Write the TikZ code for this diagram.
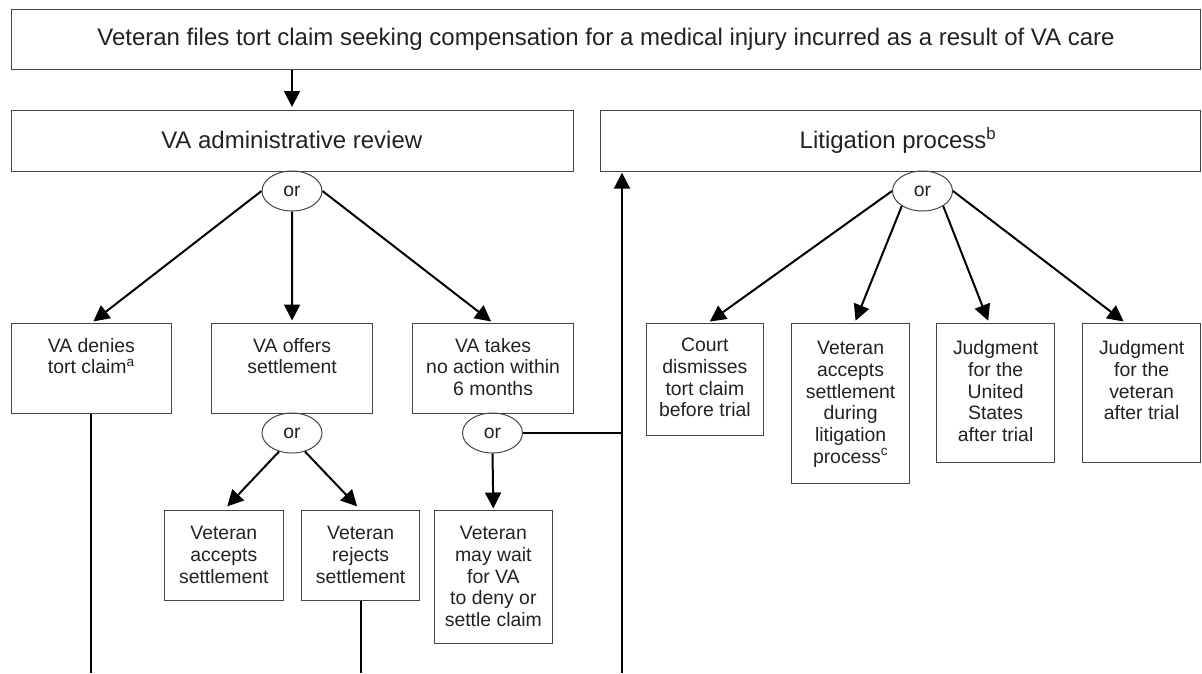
\documentclass[tikz,border=0pt]{standalone}
\usepackage{fontspec}
\setmainfont{Liberation Sans}
\usetikzlibrary{arrows.meta,shapes.geometric}
\newcommand\boxfont{\fontsize{19.4}{21.7}\selectfont}
\newcommand\headfont{\fontsize{24}{28}\selectfont}
\definecolor{ink}{HTML}{222222}
\definecolor{frame}{HTML}{444444}
\tikzset{
  box/.style={draw=frame, line width=1.2pt, inner sep=0pt, anchor=north west},
  txt/.style={font=\boxfont, text=ink, align=center, inner sep=0pt, anchor=north},
  head/.style={font=\headfont, text=ink, inner sep=0pt},
  ornode/.style={draw=frame, line width=1pt, ellipse, minimum width=60pt, minimum height=40pt, inner sep=0pt, font=\boxfont, text=ink},
  conn/.style={line width=2pt, draw=black},
  arr/.style={conn, -{Triangle[length=16pt,width=16pt]}, shorten >=2.5pt},
}
\begin{document}
\begin{tikzpicture}[x=1pt,y=-1pt]
\useasboundingbox (0,0) rectangle (1202,673);
% headings
\node[box, minimum width=1189.5pt, minimum height=60pt] (top) at (10.5,9) {};
\node[head] (topt) at (606,39) {Veteran files tort claim seeking compensation for a medical injury incurred as a result of VA care};
\node[box, minimum width=562.5pt, minimum height=61pt] (admin) at (10.5,109.5) {};
\node[head] (admint) at (291.75,140) {VA administrative review};
\node[box, minimum width=600pt, minimum height=61pt] (litig) at (600,109.5) {};
\node[head] (litigt) at (898,140) {Litigation process\textsuperscript{b}};
% or nodes
\node[ornode] (or1) at (292,191) {or};
\node[ornode] (or2) at (292,433) {or};
\node[ornode] (or3) at (492.5,433) {or};
\node[ornode] (or4) at (922.5,191) {or};
% admin outcome boxes
\node[box, minimum width=160.5pt, minimum height=90pt] (denies) at (10.5,323) {};
\node[txt] (deniest) at ([yshift=-13.8pt]denies.north) {\strut VA denies\\tort claim\textsuperscript{a}};
\node[box, minimum width=161pt, minimum height=90pt] (offers) at (211,323) {};
\node[txt] (offerst) at ([yshift=-13.8pt]offers.north) {\strut VA offers\\settlement};
\node[box, minimum width=161pt, minimum height=90pt] (noaction) at (412,323) {};
\node[txt] (noactiont) at ([yshift=-13.8pt]noaction.north) {\strut VA takes\\no action within\\6 months};
% second level
\node[box, minimum width=118.5pt, minimum height=90pt] (accepts) at (164,510) {};
\node[txt] (acceptst) at ([yshift=-14.3pt]accepts.north) {\strut Veteran\\accepts\\settlement};
\node[box, minimum width=118pt, minimum height=90pt] (rejects) at (301,510) {};
\node[txt] (rejectst) at ([yshift=-14.3pt]rejects.north) {\strut Veteran\\rejects\\settlement};
\node[box, minimum width=118.5pt, minimum height=133pt] (wait) at (433.5,510) {};
\node[txt] (waitt) at ([yshift=-14.3pt]wait.north) {\strut Veteran\\may wait\\for VA\\to deny or\\settle claim};
% litigation outcomes
\node[box, minimum width=117.5pt, minimum height=112pt] (court) at (645.5,323) {};
\node[txt] (courtt) at ([yshift=-13.3pt]court.north) {\strut Court\\dismisses\\tort claim\\before trial};
\node[box, minimum width=118pt, minimum height=160pt] (vacc) at (791,323) {};
\node[txt] (vacct) at ([yshift=-16.5pt]vacc.north) {\strut Veteran\\accepts\\settlement\\during\\litigation\\process\textsuperscript{c}};
\node[box, minimum width=118pt, minimum height=139pt] (jus) at (936,323) {};
\node[txt] (just) at ([yshift=-16.5pt]jus.north) {\strut Judgment\\for the\\United\\States\\after trial};
\node[box, minimum width=118pt, minimum height=139pt] (jvet) at (1082,323) {};
\node[txt] (jvett) at ([yshift=-16.5pt]jvet.north) {\strut Judgment\\for the\\veteran\\after trial};
% free ends at the bottom edge
\coordinate (jb) at (622,673);
% connectors
\draw[arr] (top.south -| or1.center) -- (admin.north -| or1.center);
\draw[arr] (or1.west) -- (denies.north);
\draw[arr] (or1.south) -- (offers.north);
\draw[arr] (or1.east) -- (noaction.north);
\draw[arr, shorten >=5pt] (or2.235) -- (accepts.north);
\draw[arr, shorten >=5pt] (or2.305) -- (rejects.north);
\draw[arr, shorten >=1.5pt] (or3.south) -- (wait.north);
\draw[conn] (or3.east) -- (or3.east -| jb);
\draw[arr, shorten >=1pt] (jb) -- (jb |- litig.south);
\draw[conn] (denies.south) -- (denies.south |- jb);
\draw[conn] (rejects.south) -- (rejects.south |- jb);
\draw[arr] (or4.west) -- ([xshift=3pt]court.north);
\draw[arr] (or4.216) -- ([xshift=4pt]vacc.north);
\draw[arr] (or4.324) -- ([xshift=-6.5pt]jus.north);
\draw[arr] (or4.east) -- ([xshift=-16pt]jvet.north);
\end{tikzpicture}
\end{document}
